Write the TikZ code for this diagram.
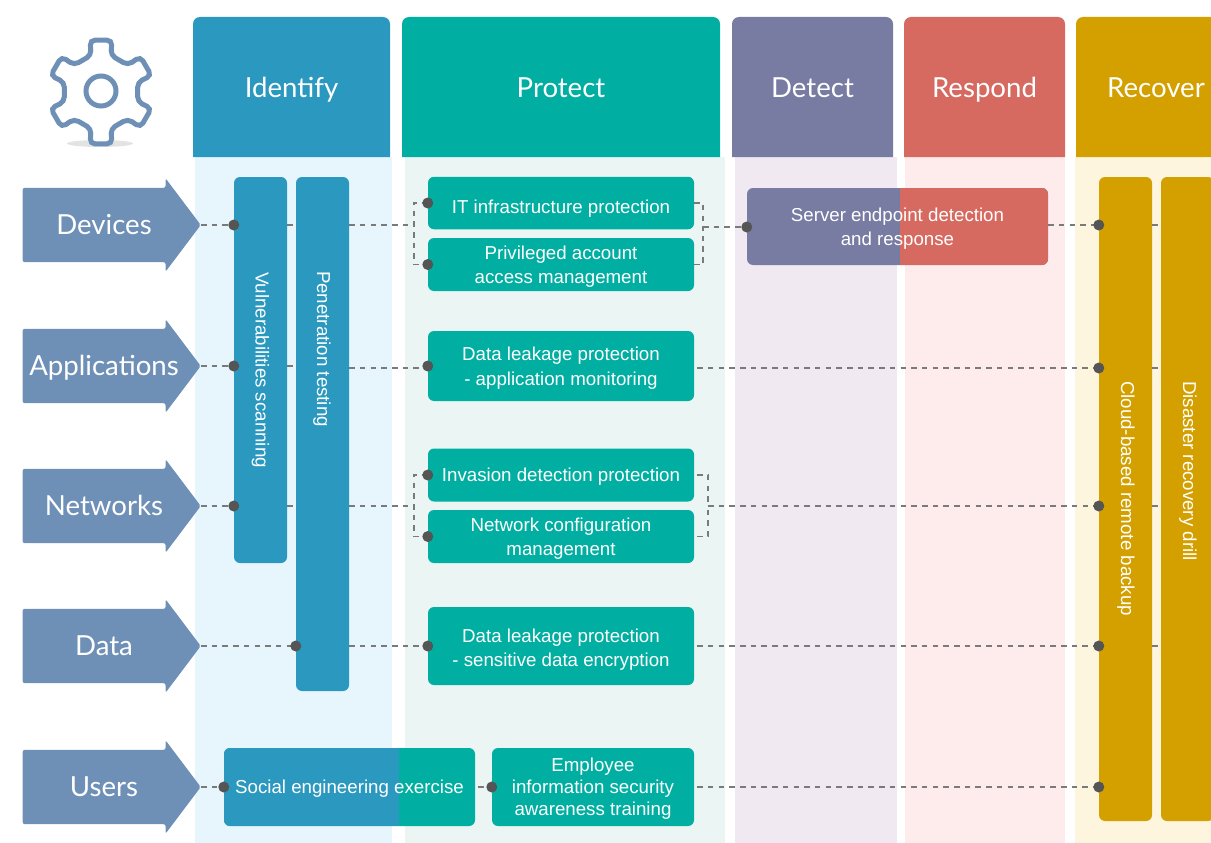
\documentclass[tikz,border=0pt]{standalone}
\usepackage{fontspec}
\setmainfont{Liberation Sans}
\newfontfamily\headfont{Lato}
\usetikzlibrary{calc,shapes.arrows}
\definecolor{identify}{HTML}{2A98BF}
\definecolor{protect}{HTML}{00AFA1}
\definecolor{detect}{HTML}{787BA2}
\definecolor{respond}{HTML}{D76A60}
\definecolor{recover}{HTML}{D3A000}
\definecolor{identifyband}{HTML}{E7F5FD}
\definecolor{protectband}{HTML}{EBF5F4}
\definecolor{detectband}{HTML}{F1E9F2}
\definecolor{respondband}{HTML}{FDECEB}
\definecolor{recoverband}{HTML}{FEF5DF}
\definecolor{rowblue}{HTML}{6F90B6}
\definecolor{dotgray}{HTML}{555555}
\definecolor{linkgray}{HTML}{7A7A7A}
\tikzset{
	headtext/.style={text=white,text height=20,text depth=0,font=\headfont\fontsize{27.6}{30}\selectfont},
	rowarrow/.style={single arrow,fill=rowblue,text height=37,text depth=37,minimum width=93,minimum height=178,
		single arrow head extend=9.5,single arrow head indent=0,single arrow tip angle=106,rounded corners=2,inner sep=0,anchor=tip},
	taskbox/.style={rounded corners=6,inner sep=0,text=white,align=center,text depth=0,font=\fontsize{18.7}{24.5}\selectfont},
	barbox/.style={taskbox,minimum width=53},
	bartext/.style={rotate=-90,text=white,font=\fontsize{18.7}{22}\selectfont},
	link/.style={draw=linkgray,line width=1.4,dash pattern=on 5.5 off 5.2},
}
\begin{document}
\begin{tikzpicture}[x=1pt,y=-1pt]
	\useasboundingbox (0,0) rectangle (1211,843);
	\clip (0,0) rectangle (1211,843);
	% columns
	\foreach \n/\t/\l/\r/\bl/\br in {identify/Identify/193/390/195/392,protect/Protect/402/720/405/725,detect/Detect/732/893/735/897,respond/Respond/904/1065/905/1065,recover/Recover/1076/1236/1075/1236} {
		\fill[\n band] (\bl,157) rectangle (\br,843);
		\fill[\n] (\l,157) [rounded corners=7] -- (\l,17) -- (\r,17) [sharp corners] -- (\r,157) -- cycle;
		\node[headtext] (head\n) at ({(\l+\r)/2},87) {\t};
	}
	% gear
	\begin{scope}[shift={(101,92)}]
		\fill[gray!22] (-1,51.5) ellipse (33 and 3.5);
		\draw[rowblue,fill=white,line width=5,rounded corners=5] (75:38) -- (78:53) -- (102:53) -- (105:38)
		\foreach \a in {150,210,270,330,390} { -- (\a-15:38) -- (\a-12:53) -- (\a+12:53) -- (\a+15:38) } -- cycle;
		\draw[rowblue,line width=5] (0,-1) circle (15);
	\end{scope}
	% rows
	\foreach \n/\t/\y in {devices/Devices/225,applications/Applications/366,networks/Networks/506,data/Data/646,users/Users/787} {
		\node[rowarrow] (\n) at (201,\y) {};
		\node[headtext] (\n text) at (104,\y-1) {\t};
	}
	% boxes
	\node[barbox,fill=identify,minimum height=386] (vuln) at (260.5,370) {};
	\node[barbox,fill=identify,minimum height=514] (pen) at (322.5,434) {};
	\node[barbox,fill=recover,minimum height=644] (cloud) at (1125.5,499) {};
	\node[barbox,fill=recover,minimum height=644] (drill) at (1187.5,499) {};
	\node[bartext] (vulntext) at (260.5,370) {Vulnerabilities scanning};
	\node[bartext] (pentext) at (322,349) {Penetration testing};
	\node[bartext] (cloudtext) at (1126,498.5) {Cloud-based remote backup};
	\node[bartext] (drilltext) at (1188,471) {Disaster recovery drill};
	\node[taskbox,fill=protect,minimum width=266,minimum height=52.5,text height=21] (infra) at (561,203) {IT infrastructure protection};
	\node[taskbox,fill=protect,minimum width=266,minimum height=53] (account) at (561,264.5) {Privileged account\\access management};
	\node[taskbox,fill=protect,minimum width=266,minimum height=70] (monitor) at (561,366) {Data leakage protection\\- application monitoring};
	\node[taskbox,fill=protect,minimum width=266,minimum height=53] (invasion) at (561,475) {Invasion detection protection};
	\node[taskbox,fill=protect,minimum width=266,minimum height=53] (config) at (561,536.5) {Network configuration\\management};
	\node[taskbox,fill=protect,minimum width=266,minimum height=78,text height=41] (encrypt) at (561,646) {Data leakage protection\\- sensitive data encryption};
	\node[taskbox,fill=protect,minimum width=202,minimum height=78] (training) at (593,787) {Employee\\[-2.5pt]information security\\[-2.5pt]awareness training};
	\node[taskbox,fill=detect,minimum width=301,minimum height=77,path picture={\fill[respond,sharp corners] ([xshift=2.5pt]path picture bounding box.north) rectangle (path picture bounding box.south east);}] (server) at (897.5,226.5) {Server endpoint detection\\and response};
	\node[taskbox,fill=protect,minimum width=251,minimum height=78,path picture={\fill[identify,sharp corners] (path picture bounding box.north west) rectangle ([xshift=49.5pt]path picture bounding box.south);}] (social) at (349.5,787) {Social engineering exercise};
	% dots and joins
	\path
	(vuln.west |- devices.tip) coordinate (vd)
	(vuln.west |- applications.tip) coordinate (va)
	(vuln.west |- networks.tip) coordinate (vn)
	(pen.west |- data.tip) coordinate (pd)
	(cloud.west |- devices.tip) coordinate (cd)
	(cloud.west |- 0,368) coordinate (ca)
	(cloud.west |- networks.tip) coordinate (cn)
	(cloud.west |- data.tip) coordinate (cf)
	(cloud.west |- users.tip) coordinate (cu)
	(414,225) coordinate (jd)
	(703,227) coordinate (jr)
	(414,506) coordinate (jn)
	(708,506) coordinate (js)
	;
	% connectors
	\draw[link] (devices.tip) -- (vd);
	\draw[link] (vuln.east |- vd) -- (pen.west |- vd);
	\draw[link] (pen.east |- vd) -- (jd);
	\draw[link] (infra.west) -| (jd) |- (account.west);
	\draw[link] (infra.east) -| (jr);
	\draw[link] (account.east) -| (jr);
	\draw[link] (jr) -- (server.west |- jr);
	\draw[link] (server.east |- cd) -- (cd);
	\draw[link] (cloud.east |- cd) -- (drill.west |- cd);
	\draw[link] (applications.tip) -- (va);
	\draw[link] (vuln.east |- va) -- (pen.west |- va);
	\draw[link] (pen.east |- ca) -- (monitor.west |- ca);
	\draw[link,shorten <=3] (monitor.east |- ca) -- (ca);
	\draw[link] (cloud.east |- ca) -- (drill.west |- ca);
	\draw[link] (networks.tip) -- (vn);
	\draw[link] (vuln.east |- vn) -- (pen.west |- vn);
	\draw[link] (pen.east |- vn) -- (jn);
	\draw[link] (invasion.west) -| (jn) |- (config.west);
	\draw[link,shorten <=3] (invasion.east) -| (js);
	\draw[link,shorten <=3] (config.east) -| (js);
	\draw[link] (js) -- (cn);
	\draw[link] (cloud.east |- cn) -- (drill.west |- cn);
	\draw[link] (data.tip) -- (pd);
	\draw[link] (pen.east |- pd) -- (encrypt.west);
	\draw[link,shorten <=3] (encrypt.east) -- (cf);
	\draw[link] (cloud.east |- cf) -- (drill.west |- cf);
	\draw[link] (users.tip) -- (social.west);
	\draw[link,shorten <=3] (social.east) -- (training.west);
	\draw[link,shorten <=3] (training.east) -- (cu);
	\foreach \x in {vd,va,vn,pd,cd,ca,cn,cf,cu,infra.west,account.west,monitor.west,invasion.west,config.west,encrypt.west,social.west,training.west} \fill[dotgray] (\x) circle (5.5);
	\fill[dotgray] (server.west |- jr) circle (5.5);
\end{tikzpicture}
\end{document}
